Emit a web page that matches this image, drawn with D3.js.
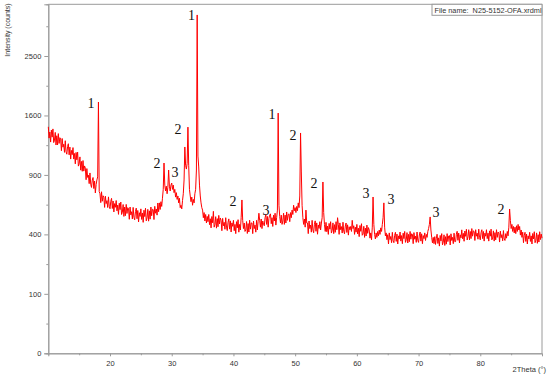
<!DOCTYPE html>
<html>
<head>
<meta charset="utf-8">
<script src="https://cdn.jsdelivr.net/npm/d3@7"></script>
<style>
  body { margin: 0; background: #fff; }
  svg { display: block; }
</style>
</head>
<body>
<div id="vis"></div>
<script>
(function () {
  'use strict';

  // scan grid, 2theta in degrees
  var THETA_START = 10;
  var THETA_STEP = 0.125;

  // intensity (counts), one row per degree, 8 steps each
  var counts = [
    1451, 1310, 1385, 1262, 1409, 1322, 1424, 1256,   // 10
    1286, 1380, 1227, 1339, 1228, 1365, 1246, 1315,
    1298, 1161, 1305, 1202, 1236, 1142, 1278, 1149,
    1121, 1209, 1242, 1114, 1203, 1067, 1164, 1116,
    1197, 1067, 1129, 1015, 1141, 1059, 1145, 991,
    1015, 1091, 949, 1041, 937, 1051, 939, 993,       // 15
    970, 852, 965, 875, 897, 814, 920, 809,
    778, 848, 874, 768, 839, 727, 805, 850,
    880, 1786, 740, 720, 642, 738, 654, 702,
    688, 602, 698, 634, 659, 601, 692, 611,
    591, 654, 679, 593, 656, 565, 634, 603,           // 20
    660, 574, 621, 546, 637, 584, 647, 545,
    563, 626, 530, 605, 536, 627, 553, 600,
    593, 508, 605, 542, 567, 510, 602, 522,
    504, 569, 596, 512, 577, 488, 559, 530,
    590, 507, 557, 485, 579, 529, 595, 496,           // 25
    518, 586, 494, 574, 509, 605, 535, 587,
    584, 506, 611, 555, 589, 540, 639, 567,
    640, 585, 650, 610, 680, 760, 1024, 800,
    745, 790, 720, 780, 950, 790, 745, 800,
    820, 760, 800, 730, 760, 690, 730, 670,           // 30
    700, 640, 680, 600, 620, 590, 660, 720,
    850, 1204, 1000, 960, 1020, 1447, 1000, 760,
    700, 650, 690, 620, 670, 640, 720, 760,
    950, 3238, 1100, 982, 800, 700, 640, 600,
    580, 520, 560, 495, 545, 480, 530, 490,           // 35
    545, 468, 512, 445, 529, 482, 570, 450,
    468, 528, 443, 513, 453, 538, 473, 518,
    500, 425, 515, 460, 485, 435, 520, 450,
    426, 486, 511, 436, 496, 416, 481, 456,
    500, 425, 470, 405, 490, 445, 505, 415,           // 40
    470, 430, 520, 665, 500, 440, 480, 420,
    431, 491, 406, 476, 416, 501, 436, 481,
    480, 405, 495, 440, 465, 415, 500, 430,
    490, 555, 500, 450, 510, 440, 495, 470,
    460, 520, 545, 470, 530, 450, 515, 540,           // 45
    550, 475, 520, 455, 540, 495, 555, 465,
    520, 580, 1632, 620, 530, 480, 540, 470,
    495, 555, 470, 540, 480, 565, 500, 545,
    550, 490, 560, 520, 580, 545, 620, 575,
    600, 560, 610, 575, 640, 600, 700, 1373,          // 50
    930, 620, 520, 470, 510, 450, 580, 480,
    480, 405, 495, 440, 465, 415, 500, 430,
    411, 471, 496, 421, 481, 401, 466, 441,
    490, 430, 480, 520, 830, 560, 470, 420,
    485, 418, 458, 400, 477, 436, 490, 409,           // 55
    427, 481, 405, 468, 414, 490, 432, 520,
    468, 400, 481, 432, 454, 409, 486, 422,
    404, 458, 480, 413, 467, 395, 453, 431,
    455, 420, 500, 440, 460, 400, 450, 415,
    470, 403, 443, 385, 462, 421, 475, 394,           // 60
    402, 456, 380, 443, 389, 465, 407, 447,
    430, 375, 410, 365, 450, 691, 470, 400,
    370, 410, 380, 420, 390, 430, 400, 445,
    420, 470, 520, 640, 450, 390, 410, 365,
    398, 338, 410, 366, 386, 346, 414, 358,           // 65
    346, 394, 414, 354, 402, 338, 390, 370,
    416, 356, 392, 340, 408, 372, 420, 348,
    364, 412, 344, 400, 352, 420, 368, 404,
    400, 340, 412, 368, 388, 348, 416, 360,
    348, 396, 416, 356, 404, 340, 392, 372,           // 70
    410, 360, 400, 380, 420, 440, 470, 526,
    430, 380, 345, 380, 340, 385, 335, 375,
    401, 341, 377, 325, 393, 357, 405, 333,
    349, 397, 329, 385, 337, 405, 353, 389,
    392, 332, 404, 360, 380, 340, 408, 352,           // 75
    353, 401, 421, 361, 409, 345, 397, 377,
    431, 371, 407, 355, 423, 387, 435, 363,
    384, 432, 364, 420, 372, 440, 388, 424,
    420, 360, 432, 388, 408, 368, 436, 380,
    364, 412, 432, 372, 420, 356, 408, 388,           // 80
    432, 372, 408, 356, 424, 388, 436, 364,
    376, 424, 356, 412, 364, 432, 380, 416,
    410, 350, 422, 378, 398, 358, 426, 370,
    360, 405, 375, 420, 390, 450, 589, 500,
    440, 470, 420, 455, 410, 450, 405, 460,           // 85
    420, 470, 430, 455, 395, 430, 380, 415,
    346, 394, 414, 354, 402, 338, 390, 370,
    414, 354, 390, 338, 406, 370, 418, 346,
    362, 410, 342, 398, 350, 418, 366, 402,
    375                                               // 90
  ];

  // phase markers written over the peaks
  var markText = ['1', '1', '2', '2', '3', '2', '3', '1', '2', '2', '3', '3', '3', '2'];
  var markTheta = [16.92, 33.21, 31.02, 27.62, 30.53, 39.94, 45.29, 46.26, 49.67, 53.07, 61.5, 65.55, 72.84, 83.37];
  var markCount = [1772, 3238, 1423, 1025, 930, 657, 581, 1620, 1348, 820, 727, 673, 565, 589];

  var xTicks = [20, 30, 40, 50, 60, 70, 80];
  var xMinor = [15, 25, 35, 45, 55, 65, 75, 85];
  var yTicks = [0, 100, 400, 900, 1600, 2500];
  var yMinor = [25, 225, 625, 1225, 2025, 3025];

  var WIDTH = 550;
  var HEIGHT = 378;
  var LEFT = 48.3, RIGHT = 542, TOP = 4.3, BOTTOM = 353.3;
  var AXIS_GREY = '#9a9a9a';
  var TEXT_GREY = '#333';
  var SANS = 'Liberation Sans, Arial, sans-serif';

  var svg = d3.select('#vis').append('svg')
    .attr('width', WIDTH)
    .attr('height', HEIGHT);

  var x = d3.scaleLinear().domain([10, 90]).range([LEFT, RIGHT]);
  var y = d3.scaleSqrt().domain([0, 3445]).range([BOTTOM, TOP]);

  var data = counts.map(function (c, i) {
    return [THETA_START + i * THETA_STEP, c];
  });

  // frame: top and right edges
  svg.append('path')
    .attr('d', 'M' + LEFT + ',' + TOP + 'H' + RIGHT + 'V' + BOTTOM)
    .attr('fill', 'none')
    .attr('stroke', AXIS_GREY)
    .attr('stroke-width', 1);

  var styleAxis = function (g) {
    g.select('.domain').attr('stroke', AXIS_GREY);
    g.selectAll('.tick line').attr('stroke', AXIS_GREY);
    g.selectAll('.tick text')
      .attr('fill', TEXT_GREY)
      .style('font-family', SANS)
      .style('font-size', '7.5px');
  };

  // y axis, sqrt scaled
  svg.append('g')
    .attr('transform', 'translate(' + LEFT + ',0)')
    .call(d3.axisLeft(y).tickValues(yMinor).tickSize(2).tickFormat(''))
    .call(styleAxis);
  svg.append('g')
    .attr('transform', 'translate(' + LEFT + ',0)')
    .call(d3.axisLeft(y).tickValues(yTicks).tickSize(4).tickPadding(3).tickFormat(d3.format('d')))
    .call(styleAxis);

  // x axis
  svg.append('g')
    .attr('transform', 'translate(0,' + BOTTOM + ')')
    .call(d3.axisBottom(x).tickValues(xMinor).tickSize(2).tickFormat(''))
    .call(styleAxis);
  svg.append('g')
    .attr('transform', 'translate(0,' + BOTTOM + ')')
    .call(d3.axisBottom(x).tickValues(xTicks).tickSize(3).tickPadding(4).tickFormat(d3.format('d')))
    .call(styleAxis);

  svg.append('text')
    .attr('transform', 'translate(10,30) rotate(-90)')
    .attr('text-anchor', 'middle')
    .attr('fill', TEXT_GREY)
    .style('font-family', SANS)
    .style('font-size', '7px')
    .text('Intensity (counts)');

  svg.append('text')
    .attr('x', 546)
    .attr('y', 372)
    .attr('text-anchor', 'end')
    .attr('fill', TEXT_GREY)
    .style('font-family', SANS)
    .style('font-size', '7.5px')
    .text('2Theta (°)');

  // file name box in the top right corner
  svg.append('rect')
    .attr('x', 432)
    .attr('y', TOP)
    .attr('width', RIGHT - 432)
    .attr('height', 11)
    .attr('fill', '#fff')
    .attr('stroke', AXIS_GREY)
    .attr('stroke-width', 1);
  svg.append('text')
    .attr('x', 434.5)
    .attr('y', 12.5)
    .attr('fill', TEXT_GREY)
    .style('font-family', SANS)
    .style('font-size', '7.3px')
    .style('white-space', 'pre')
    .text('File name:  N25-5152-OFA.xrdml');

  // the scan itself
  var line = d3.line()
    .x(function (d) { return x(d[0]); })
    .y(function (d) { return y(d[1]); });

  svg.append('path')
    .datum(data)
    .attr('d', line)
    .attr('fill', 'none')
    .attr('stroke', '#ff0000')
    .attr('stroke-width', 1)
    .attr('stroke-linejoin', 'round');

  // peak markers
  svg.append('g').selectAll('text')
    .data(markText)
    .enter().append('text')
    .attr('x', function (d, i) { return x(markTheta[i]); })
    .attr('y', function (d, i) { return y(markCount[i]); })
    .attr('dy', '0.35em')
    .attr('text-anchor', 'middle')
    .attr('fill', '#111')
    .style('font-family', 'Liberation Serif, Times New Roman, serif')
    .style('font-size', '14px')
    .text(function (d) { return d; });
})();
</script>
</body>
</html>
